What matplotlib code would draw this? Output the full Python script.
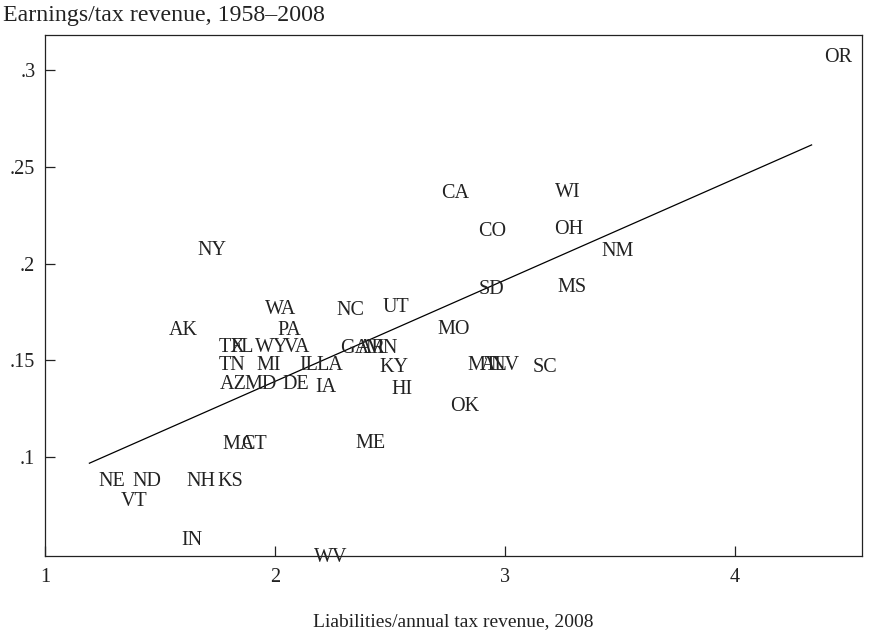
import matplotlib
matplotlib.use("Agg")
import matplotlib.pyplot as plt

# State labels and their positions (liabilities/tax revenue, earnings/tax revenue)
states = ["OR", "CA", "WI", "CO", "OH", "NM", "NY", "SD", "MS",
          "WA", "NC", "UT", "AK", "PA", "MO",
          "TX", "FL", "WY", "VA", "GA", "AR", "MN",
          "TN", "MI", "IL", "LA", "KY", "MT", "AL", "NV", "SC",
          "AZ", "MD", "DE", "IA", "HI", "OK",
          "MA", "CT", "ME", "NE", "ND", "NH", "KS", "VT", "IN", "WV"]
liabilities = [4.448, 2.783, 3.272, 2.946, 3.278, 3.489, 1.726, 2.939, 3.293,
               2.026, 2.330, 2.526, 1.602, 2.061, 2.776,
               1.815, 1.859, 1.987, 2.096, 2.346, 2.422, 2.465,
               1.815, 1.972, 2.148, 2.239, 2.515, 2.900, 2.952, 3.000, 3.172,
               1.820, 1.937, 2.089, 2.222, 2.552, 2.826,
               1.843, 1.907, 2.417, 1.289, 1.443, 1.678, 1.807, 1.389, 1.639, 2.243]
earnings = [0.3075, 0.2375, 0.238, 0.2179, 0.2189, 0.2073, 0.2081, 0.1879, 0.1889,
            0.1778, 0.1771, 0.1786, 0.1667, 0.1667, 0.1675,
            0.1582, 0.1582, 0.1582, 0.1582, 0.1572, 0.1572, 0.1572,
            0.1484, 0.1484, 0.1484, 0.1484, 0.1476, 0.1484, 0.1484, 0.1484, 0.1474,
            0.1386, 0.1386, 0.1386, 0.1373, 0.1365, 0.1277,
            0.1076, 0.1076, 0.1084, 0.0885, 0.0885, 0.0885, 0.0885, 0.0782, 0.0585, 0.0495]

# Fitted line endpoints
fit_x = [1.193, 4.333]
fit_y = [0.0969, 0.2613]

x_ticks = [1, 2, 3, 4]
x_ticklabels = ["1", "2", "3", "4"]
y_ticks = [0.1, 0.15, 0.2, 0.25, 0.3]
y_ticklabels = [".1", ".15", ".2", ".25", ".3"]

x_title = "Liabilities/annual tax revenue, 2008"
y_title = "Earnings/tax revenue, 1958–2008"

plt.rcParams['font.family'] = ['Liberation Serif', 'DejaVu Serif']
FS = 14.5

fig = plt.figure(figsize=(8.72, 6.34), dpi=100)
ax = fig.add_axes([45/872, 1-556/634, (862-45)/872, (556-35)/634])
ax.set_xlim(1.0, 1 + (862-45)/230)
ax.set_ylim(0.3 - 486/1936, 0.3 + 35/1936)

ax.plot(fit_x, fit_y, color='black', lw=0.9)
for s, x, y in zip(states, liabilities, earnings):
    ax.text(x, y, s, ha='center', va='center_baseline', fontsize=FS, color='#222222')

ax.set_xticks(x_ticks)
ax.set_xticklabels(x_ticklabels)
ax.set_yticks(y_ticks)
ax.set_yticklabels(y_ticklabels)
ax.tick_params(direction='in', length=7, width=0.9, labelsize=14.5, colors='#222222')
ax.tick_params(axis='x', pad=9)
ax.tick_params(axis='y', pad=7)
for sp in ax.spines.values():
    sp.set_linewidth(0.9)
    sp.set_color('#222222')

fig.text(453/872, 1-622/634, x_title, ha='center', va='center', fontsize=14, color='#222222')
fig.text(3/872, 1-15/634, y_title, ha='left', va='center', fontsize=17.2, color='#222222')

fig.savefig("out.png", dpi=100)
